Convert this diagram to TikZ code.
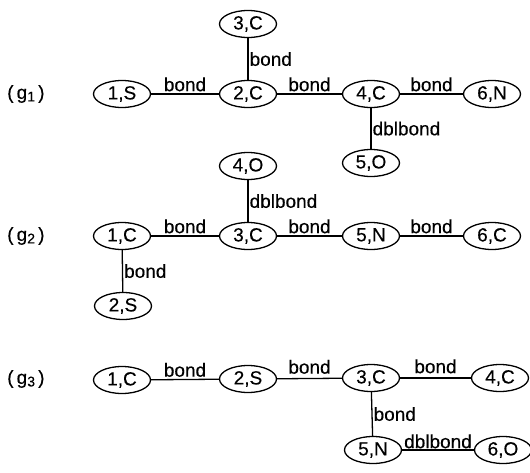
\documentclass[tikz,border=0pt]{standalone}
\usepackage{fontspec}
\setmainfont{Liberation Sans}
\newfontfamily\heavy{Liberation Sans}[FakeBold=0.3]
\usetikzlibrary{shapes.geometric}
\newcommand\gname[1]{(\,g\raisebox{-2.5pt}{\fontsize{14}{14}\selectfont#1}\,)}
\begin{document}
\begin{tikzpicture}[x=1pt,y=-1pt,
  atom/.style={ellipse, draw, line width=1.3pt, minimum width=57pt, minimum height=27pt,
    inner sep=0pt, font=\heavy\fontsize{19}{22}\selectfont},
  conn/.style={line width=1.3pt},
  lab/.style={font=\heavy\fontsize{19}{22}\selectfont, inner sep=2pt},
  glabel/.style={font=\heavy\fontsize{19}{22}\selectfont, anchor=west, inner sep=0pt}]
\useasboundingbox (0,0) rectangle (530,472);

% graph g1
\node[glabel] (g1) at (7,94) {\gname{1}};
\node[atom] (a1) at (122,94) {1,S};
\node[atom] (a2) at (248,94) {2,C};
\node[atom] (a3) at (248,24) {3,C};
\node[atom] (a4) at (371,94) {4,C};
\node[atom] (a5) at (371,163) {5,O};
\node[atom] (a6) at (492,94) {6,N};
\draw[conn] (a1) -- node[lab,above] {bond} (a2);
\draw[conn] (a2) -- node[lab,right,inner sep=1pt] {bond} (a3);
\draw[conn] (a2) -- node[lab,above] {bond} (a4);
\draw[conn] (a4) -- node[lab,above] {bond} (a6);
\draw[conn] (a4) -- node[lab,right,inner sep=1pt] {dblbond} (a5);

% graph g2
\node[glabel] (g2) at (7,236) {\gname{2}};
\node[atom] (b1) at (122,236) {1,C};
\node[atom] (b2) at (123,306) {2,S};
\node[atom] (b3) at (248,236) {3,C};
\node[atom] (b4) at (248,166) {4,O};
\node[atom] (b5) at (371,236) {5,N};
\node[atom] (b6) at (492,236) {6,C};
\draw[conn] (b1) -- node[lab,above] {bond} (b3);
\draw[conn] (b1) -- node[lab,right,inner sep=1pt] {bond} (b2);
\draw[conn] (b3) -- node[lab,right,inner sep=1pt] {dblbond} (b4);
\draw[conn] (b3) -- node[lab,above] {bond} (b5);
\draw[conn] (b5) -- node[lab,above] {bond} (b6);

% graph g3
\node[glabel] (g3) at (7,379) {\gname{3}};
\node[atom] (c1) at (122,380) {1,C};
\node[atom] (c2) at (248,379) {2,S};
\node[atom] (c3) at (371,378) {3,C};
\node[atom] (c4) at (500,378) {4,C};
\node[atom] (c5) at (373,450) {5,N};
\node[atom] (c6) at (503,450) {6,O};
\draw[conn] (c1) -- node[lab,above] {bond} (c2);
\draw[conn] (c2) -- node[lab,above,inner sep=4pt] {bond} (c3);
\draw[conn] (c3) -- node[lab,above,inner sep=4pt] {bond} (c4);
\draw[conn] (c3) -- node[lab,right,inner sep=1pt] {bond} (c5);
\draw[conn] (c5) -- node[lab,above,inner sep=1pt] {dblbond} (c6);
\end{tikzpicture}
\end{document}
